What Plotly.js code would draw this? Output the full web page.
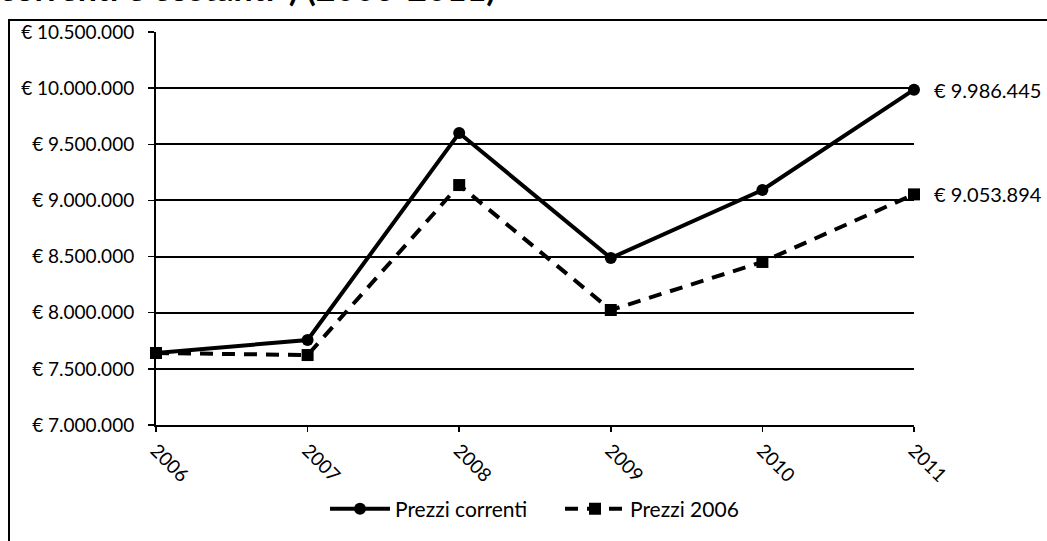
<!DOCTYPE html>
<html>
<head>
<meta charset="utf-8">
<script src="https://cdn.plot.ly/plotly-3.0.1.min.js"></script>
<style>html,body{margin:0;padding:0;background:#fff;}#chart{width:1047px;height:541px;}</style>
</head>
<body>
<div id="chart"></div>
<script>
const years = ["2006", "2007", "2008", "2009", "2010", "2011"];
const prezziCorrenti = [7641000, 7757000, 9600000, 8487000, 9093000, 9986445];
const prezzi2006 = [7641000, 7623000, 9137000, 8024000, 8452000, 9053894];
const seriesNames = ["Prezzi correnti", "Prezzi 2006"];
const titleText = "correnti e costanti*) (2006-2011)";

function fmtEuro(v) {
  const s = Math.round(v).toString().replace(/\B(?=(\d{3})+(?!\d))/g, ".");
  return "€ " + s;
}

const FONT = "Lato, 'Open Sans', sans-serif";
const FS = 19;

const traces = [
  {
    x: years, y: prezziCorrenti, name: seriesNames[0],
    type: "scatter", mode: "lines+markers",
    line: {color: "#000", width: 4},
    marker: {symbol: "circle", size: 12, color: "#000"},
    cliponaxis: false
  },
  {
    x: years, y: prezzi2006, name: seriesNames[1],
    type: "scatter", mode: "lines+markers",
    line: {color: "#000", width: 4, dash: "13px,9px"},
    marker: {symbol: "square", size: 12, color: "#000"},
    cliponaxis: false
  }
];

const L = 156, R = 914, T = 32, B = 425;
const pw = R - L, ph = B - T;
function px(x) { return (x - L) / pw; }
function py(y) { return (B - y) / ph; }

const lastIdx = years.length - 1;
const annotations = [
  {text: "<b>" + titleText + "</b>", xref: "paper", yref: "paper",
   x: px(-3), xanchor: "left", y: py(10), yanchor: "bottom",
   showarrow: false, font: {family: FONT, size: 34, color: "#000"}},
  {text: fmtEuro(prezziCorrenti[lastIdx]), xref: "x", yref: "y",
   x: lastIdx, y: prezziCorrenti[lastIdx], xanchor: "left", yanchor: "middle",
   xshift: 18, showarrow: false, font: {family: FONT, size: 20, color: "#000"}},
  {text: fmtEuro(prezzi2006[lastIdx]), xref: "x", yref: "y",
   x: lastIdx, y: prezzi2006[lastIdx], xanchor: "left", yanchor: "middle",
   xshift: 18, showarrow: false, font: {family: FONT, size: 20, color: "#000"}}
];

const layout = {
  width: 1047, height: 541,
  margin: {l: L, r: 1047 - R, t: T, b: 541 - B},
  paper_bgcolor: "#fff", plot_bgcolor: "#fff",
  separators: ",.",
  font: {family: FONT, size: FS, color: "#000"},
  showlegend: true,
  legend: {
    orientation: "h", x: px(325), xanchor: "left", y: py(509), yanchor: "middle",
    bgcolor: "rgba(0,0,0,0)",
    font: {family: FONT, size: 21, color: "#000"},
    itemwidth: 60,
    entrywidth: 160, entrywidthmode: "pixels"
  },
  xaxis: {
    type: "category", range: [0, 5],
    showgrid: false, showline: true, linecolor: "#000", linewidth: 2,
    ticks: "outside", ticklen: 5, tickcolor: "#000", tickwidth: 1.5,
    tickangle: 45, tickfont: {family: FONT, size: FS, color: "#000"},
    zeroline: false, fixedrange: true
  },
  yaxis: {
    range: [7000000, 10500000], dtick: 500000, tick0: 7000000,
    tickprefix: "€ ", tickformat: ",.0f",
    showgrid: true, gridcolor: "#000", gridwidth: 2,
    showline: true, linecolor: "#000", linewidth: 2,
    ticks: "outside", ticklen: 6, tickcolor: "#000", tickwidth: 1.5,
    ticklabelstandoff: 10,
    tickfont: {family: FONT, size: FS, color: "#000"},
    zeroline: false, fixedrange: true
  },
  shapes: [
    {type: "rect", xref: "paper", yref: "paper",
     x0: px(9), x1: px(1060), y0: py(560), y1: py(20),
     line: {color: "#000", width: 2}, fillcolor: "rgba(0,0,0,0)", layer: "below"}
  ],
  annotations: annotations
};

Plotly.newPlot("chart", traces, layout, {displayModeBar: false, staticPlot: true});
</script>
</body>
</html>
